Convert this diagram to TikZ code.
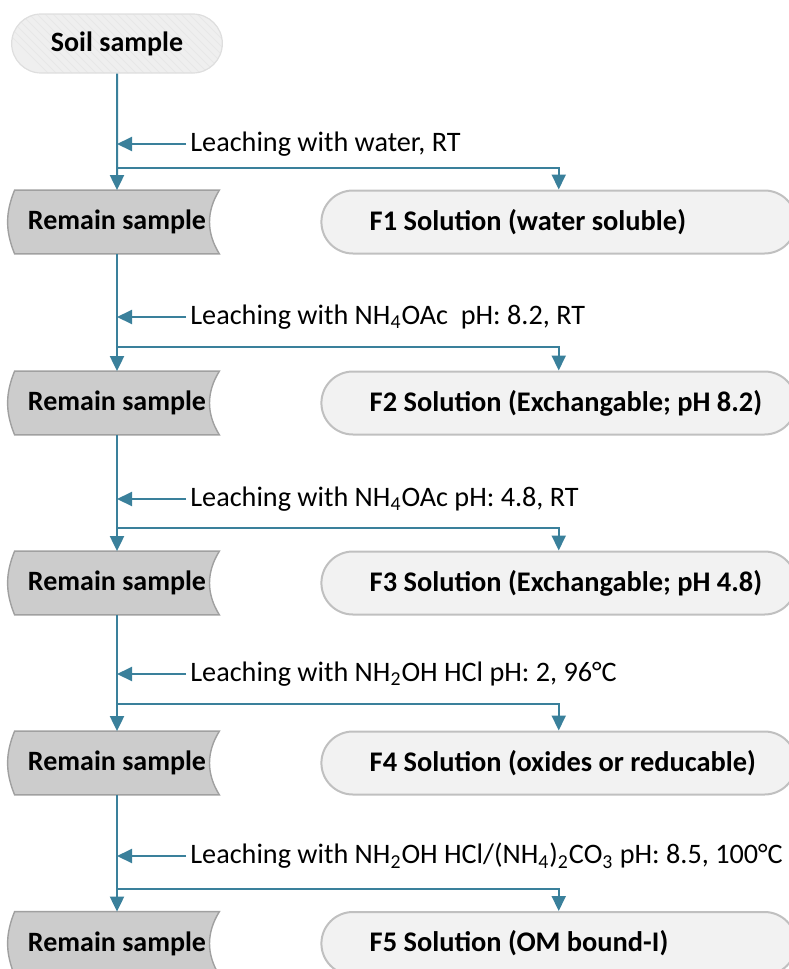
\documentclass[tikz,border=0pt]{standalone}
\usepackage{fontspec}
\setmainfont{Carlito}
\usetikzlibrary{arrows.meta,positioning,shapes.misc,backgrounds}
\definecolor{flowteal}{RGB}{58,128,155}
\definecolor{remfill}{RGB}{204,204,204}
\definecolor{remline}{RGB}{160,160,160}
\definecolor{solfill}{RGB}{242,242,242}
\definecolor{solline}{RGB}{192,192,192}
\definecolor{soilfill}{RGB}{239,239,239}
\definecolor{soilline}{RGB}{222,222,222}
\newcommand{\soltext}[1]{\makebox[189pt][l]{#1}}
\tikzset{
  soilbox/.style={rounded rectangle, draw=soilline, fill=soilfill, line width=0.6pt,
               minimum width=112pt, minimum height=29.5pt, font=\fontsize{14}{17}\selectfont\bfseries,
               path picture={\foreach \k in {-16,...,16}
                 \draw[soilline!45!soilfill, line width=0.4pt]
                   ([xshift=\k*4pt]path picture bounding box.north) -- ++(32pt,-32pt);}},
  rembox/.style={rectangle, minimum width=102pt, minimum height=31.5pt, inner sep=0pt,
               font=\fontsize{14}{17}\selectfont\bfseries},
  remshape/.style={draw=remline, fill=remfill, line width=0.7pt},
  solbox/.style={rounded rectangle, draw=solline, fill=solfill, line width=1pt,
               minimum width=244pt, minimum height=31.5pt,
               font=\fontsize{14.2}{17}\selectfont\bfseries},
  leach/.style={anchor=west, inner xsep=2pt, inner ysep=0pt, font=\fontsize{14.1}{17}\selectfont},
  flow/.style={-{Triangle[length=7.5pt, width=7pt]}, line width=1pt, draw=flowteal},
}

\begin{document}
\begin{tikzpicture}[x=0.5pt, y=-0.5pt, node distance=50.5pt]
    \useasboundingbox (0,0) rectangle (788,969);
    \node[soilbox] (soil) at (117,43.5) {Soil sample};
    \node[rembox] (r1) at (117,222) {Remain sample};
    \node[rembox] (r2) at (117,403) {Remain sample};
    \node[rembox] (r3) at (117,583) {Remain sample};
    \node[rembox] (r4) at (117,763) {Remain sample};
    \node[rembox] (r5) at (117,943.5) {Remain sample};
    \node[solbox, right=of r1] (f1) {\soltext{F1 Solution (water soluble)}};
    \node[solbox, right=of r2] (f2) {\soltext{F2 Solution (Exchangable; pH 8.2)}};
    \node[solbox, right=of r3] (f3) {\soltext{F3 Solution (Exchangable; pH 4.8)}};
    \node[solbox, right=of r4] (f4) {\soltext{F4 Solution (oxides or reducable)}};
    \node[solbox, right=of r5] (f5) {\soltext{F5 Solution (OM bound-I)}};
    \begin{scope}[on background layer]
      \foreach \n in {r1,r2,r3,r4,r5}
        \draw[remshape] (\n.north west) -- (\n.north east) to[bend right=32] (\n.south east)
          -- (\n.south west) to[bend left=22] (\n.north west) -- cycle;
    \end{scope}
    \node[leach] (l1) at (186,144) {Leaching with water, RT};
    \node[leach] (l2) at (186,317) {Leaching with NH\textsubscript{4}OAc\ \ pH: 8.2, RT};
    \node[leach] (l3) at (186,499) {Leaching with NH\textsubscript{4}OAc pH: 4.8, RT};
    \node[leach] (l4) at (186,674) {Leaching with NH\textsubscript{2}OH HCl pH: 2, 96°C};
    \node[leach] (l5) at (186,856) {Leaching with NH\textsubscript{2}OH HCl/(NH\textsubscript{4})\textsubscript{2}CO\textsubscript{3} pH: 8.5, 100°C};
    \coordinate (b1) at (117,168);
    \coordinate (b2) at (117,347);
    \coordinate (b3) at (117,528);
    \coordinate (b4) at (117,704);
    \coordinate (b5) at (117,889);
    \draw[flow] (soil) -- (r1);\draw[flow] (r1) -- (r2);\draw[flow] (r2) -- (r3);
    \draw[flow] (r3) -- (r4);\draw[flow] (r4) -- (r5);
    \draw[flow] (l1.west) -- (l1.west -| r1.north);\draw[flow] (l2.west) -- (l2.west -| r2.north);
    \draw[flow] (l3.west) -- (l3.west -| r3.north);\draw[flow] (l4.west) -- (l4.west -| r4.north);
    \draw[flow] (l5.west) -- (l5.west -| r5.north);
    \draw[flow] (b1) -| (f1.north);\draw[flow] (b2) -| (f2.north);\draw[flow] (b3) -| (f3.north);
    \draw[flow] (b4) -| (f4.north);\draw[flow] (b5) -| (f5.north);
  \end{tikzpicture}
\end{document}
